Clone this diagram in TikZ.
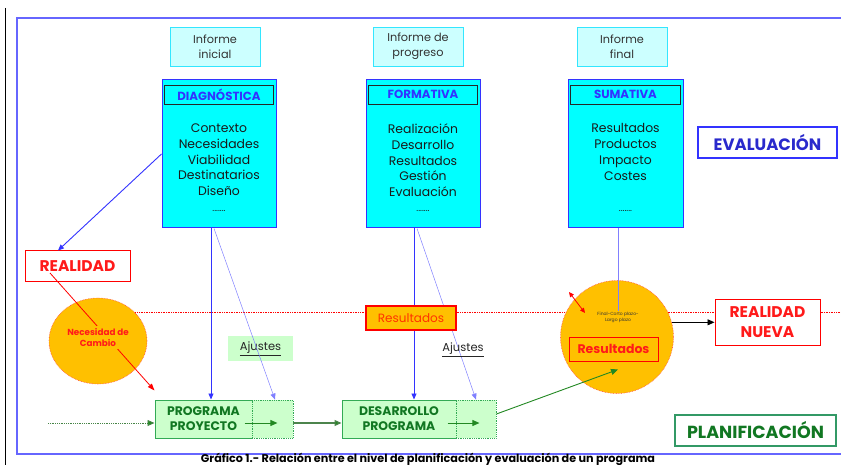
\documentclass[tikz,border=0pt]{standalone}
\usepackage{fontspec}
\setmainfont{Poppins}
\usetikzlibrary{arrows.meta,calc,shapes.geometric,backgrounds}
\definecolor{cyanbody}{HTML}{00FFFF}
\definecolor{cyanlight}{HTML}{CCFFFF}
\definecolor{cyanedge}{HTML}{33E6FF}
\definecolor{evalblue}{HTML}{3333FF}
\definecolor{frameblue}{HTML}{6666FF}
\definecolor{thinblue}{HTML}{8080FF}
\definecolor{orangefill}{HTML}{FFC000}
\definecolor{redtext}{HTML}{FF1A1A}
\definecolor{orangered}{HTML}{FF3300}
\definecolor{greenfill}{HTML}{CCFFCC}
\definecolor{greenedge}{HTML}{33AA55}
\definecolor{greentext}{HTML}{117722}
\definecolor{greenline}{HTML}{228822}
\definecolor{plangreen}{HTML}{339966}
\definecolor{bodytext}{HTML}{1A1A1A}
\newcommand{\fs}[1]{\fontsize{#1}{#1}\selectfont}
\begin{document}
\begin{tikzpicture}[x=1pt,y=-1pt,
  informe/.style={draw=cyanedge, fill=cyanlight, line width=0.9pt, minimum width=90pt,
    minimum height=39pt, align=center, text=black!80, font=\fs{11.3}\linespread{1.35}\selectfont},
  evalbox/.style={draw=evalblue, fill=cyanbody, line width=1pt, minimum width=114pt,
    minimum height=148pt},
  evalhead/.style={draw=black!85, fill=cyanbody, line width=0.9pt, minimum width=109pt,
    minimum height=19pt, inner sep=0pt, text=evalblue, font=\bfseries\fs{11.8}},
  evalbody/.style={align=center, text=bodytext, inner sep=0pt, anchor=north,
    font=\fontsize{12.4}{15.8}\selectfont},
  dots/.style={text=bodytext, font=\fs{9}, inner sep=0pt},
  redbox/.style={draw=red, fill=white, line width=1pt, text=redtext, align=center,
    font=\bfseries\fs{15.5}\linespread{1.3}\selectfont},
  progbox/.style={draw=greenedge, fill=greenfill, line width=1pt, minimum height=38pt,
    text=greentext, align=center, font=\bfseries\fs{12.4}\linespread{1.22}\selectfont},
  progext/.style={draw=greenedge, fill=greenfill, line width=0.8pt, densely dotted,
    minimum height=38pt, minimum width=41pt},
  bluearrow/.style={draw=evalblue, line width=0.9pt, -{Triangle[length=6pt,width=5pt]}},
  thinarrow/.style={draw=thinblue, line width=0.5pt, -{Triangle[length=6pt,width=5pt]}},
  greenarrow/.style={draw=greenline, line width=0.9pt, -{Triangle[length=7pt,width=6pt]}},
  ajustes/.style={text=black!85, font=\fs{11.5}},
  orangeshape/.style={fill=orangefill, draw=red!70, densely dotted, line width=0.6pt}
]
\useasboundingbox (0,0) rectangle (841,465);

% page rule and outer frame
\draw[black, line width=1pt] (5,8) coordinate (ruletop) -- (5,465) coordinate (rulebot);
\draw[frameblue, line width=1.5pt] (841,18) -- (17,18) -- (17,454) -- (841,454);

% reports
\node[informe] (inf1) at (215,46.5) {Informe\\inicial};
\node[informe] (inf2) at (418,46.5) {Informe de\\progreso};
\node[informe] (inf3) at (622,46.5) {Informe\\final};

% evaluation types
\node[evalbox] (diag) at (219,154) {};
\node[evalhead] (diagh) at (219,94.5) {DIAGNÓSTICA};
\node[evalbody] (diagb) at (219,123.5) {Contexto\\Necesidades\\Viabilidad\\Destinatarios\\Diseño};
\node[dots] (diagd) at (219,211) {.......};

\node[evalbox] (form) at (423,154) {};
\node[evalhead] (formh) at (423,94.5) {FORMATIVA};
\node[evalbody] (formb) at (423,123.5) {Realización\\Desarrollo\\Resultados\\Gestión\\Evaluación};
\node[dots] (formd) at (423,211) {.......};

\node[evalbox, minimum width=115pt] (sum) at (625.5,154) {};
\node[evalhead, minimum width=110pt] (sumh) at (625.5,94.5) {SUMATIVA};
\node[evalbody] (sumb) at (625.5,123.5) {Resultados\\Productos\\Impacto\\Costes};
\node[dots] (sumd) at (625.5,211) {.......};

\node[draw=evalblue, line width=1.2pt, minimum width=139pt, minimum height=31pt,
  text=evalblue!80!black, font=\bfseries\fs{16.5}] (evalu) at (767.5,142.5) {EVALUACIÓN};

% reality and need for change
\node[redbox, minimum width=105pt, minimum height=31pt] (real) at (77.5,266.5) {REALIDAD};
\node[orangeshape, ellipse, minimum width=98pt, minimum height=86pt] (need) at (98,341) {};

% planning: programme and development
\node[progbox, minimum width=97pt] (prog) at (203.5,419) {PROGRAMA\\PROYECTO};
\node[progext] (progx) at (272.5,419) {};
\node[progbox, minimum width=114pt] (dev) at (399,419) {DESARROLLO\\PROGRAMA};
\node[progext, minimum width=40pt] (devx) at (476,419) {};

\node[fill=greenfill, minimum width=65pt, minimum height=25pt, ajustes] (aj1) at (260.5,348.5) {\underline{Ajustes}};
\node[ajustes] (aj2) at (463,350) {\underline{Ajustes}};

% results
\node[fill=orangefill, draw=red, line width=1.1pt, minimum width=90pt, minimum height=24pt,
  text=orangered, font=\fs{12}] (res1) at (411,318) {Resultados};
\node[orangeshape, circle, minimum size=113pt] (circ) at (617,337) {};
\node[align=center, inner sep=1pt, text=black!80, font=\fs{4.5}\linespread{1.2}\selectfont] (term) at (618,317.5) {Final-Corto plazo-\\Largo plazo};
\node[draw=red, line width=1pt, minimum width=89pt, minimum height=24pt,
  text=redtext, font=\bfseries\fs{12.5}] (res2) at (613.5,349) {Resultados};

\node[redbox, minimum width=105pt, minimum height=46pt] (rnew) at (767.5,322) {REALIDAD\\NUEVA};
\node[draw=plangreen, line width=1.1pt, minimum width=161pt, minimum height=31pt,
  text=greentext, font=\bfseries\fs{17.5}] (plan) at (755.5,430.5) {PLANIFICACIÓN};

% connectors running beneath the boxes
\begin{scope}[on background layer]
  \draw[red, densely dotted, line width=0.7pt] (need.37) -- (need.37 -| 841,0);
  \draw[bluearrow] ([xshift=-9pt]form.south) -- ([xshift=-9pt]form.south |- dev.north);
  \draw[thinarrow] ([xshift=-6pt]form.south) -- (devx.north);
\end{scope}

% connectors on top
\draw[bluearrow] (diag.west) -- ([xshift=-19.5pt]real.north);
\draw[bluearrow] ([xshift=-8pt]diag.south) -- ([xshift=-8pt]diag.south |- prog.north);
\draw[thinarrow] ([xshift=-5pt]diag.south) -- ([xshift=2.5pt]progx.north);
\draw[draw=thinblue, line width=0.9pt] ([xshift=-7.5pt]sum.south) -- ([xshift=-7.5pt]sum.south |- term.north);

\draw[red, line width=0.8pt, -{Triangle[length=7pt,width=5pt]}]
  ($(real.center)+(-27.5,6.5)$) -- ($(prog.north west)+(0,-9)$);
\node[fill=orangefill, inner sep=2pt, align=center, text=redtext,
  font=\bfseries\fs{8.8}\linespread{1.25}\selectfont] (needtxt) at (98,337.5) {Necesidad de\\Cambio};

\draw[red, line width=0.8pt, {Triangle[length=5pt,width=4.5pt]}-{Triangle[length=5pt,width=4.5pt]}]
  ($(circ.center)+(-48,-45)$) -- ($(circ.center)+(-32,-24)$);

\draw[greenline!60!gray, densely dotted, line width=0.8pt, -{Triangle[length=7pt,width=6pt, fill=greenline]}]
  (48,423) coordinate (feed) -- ($(prog.west)+(0,4)$);
\draw[greenarrow] ($(prog.east)+(-8,4)$) -- ($(progx.east)+(-16,4)$);
\draw[draw=greenline!55!gray, line width=1.2pt, -{Triangle[length=7pt,width=6pt,fill=greenline]}]
  ($(progx.east)+(0,4)$) -- ($(dev.west)+(0,4)$);
\draw[greenarrow] ($(dev.east)+(-9,4)$) -- ($(devx.east)+(-17,4)$);
\draw[greenarrow] ($(devx.east)+(0,-5)$) -- ($(res2.south)+(4.5,8)$);

\draw[black, line width=0.9pt, -{Triangle[length=7pt,width=6pt]}] (circ.15) -- (circ.15 -| rnew.west);

% caption
\node[anchor=base, inner sep=0pt, font=\bfseries\fs{11.2}] (caption) at (428,462.3) {Gráfico 1.- Relación entre el nivel de planificación y evaluación de un programa};
\end{tikzpicture}
\end{document}
